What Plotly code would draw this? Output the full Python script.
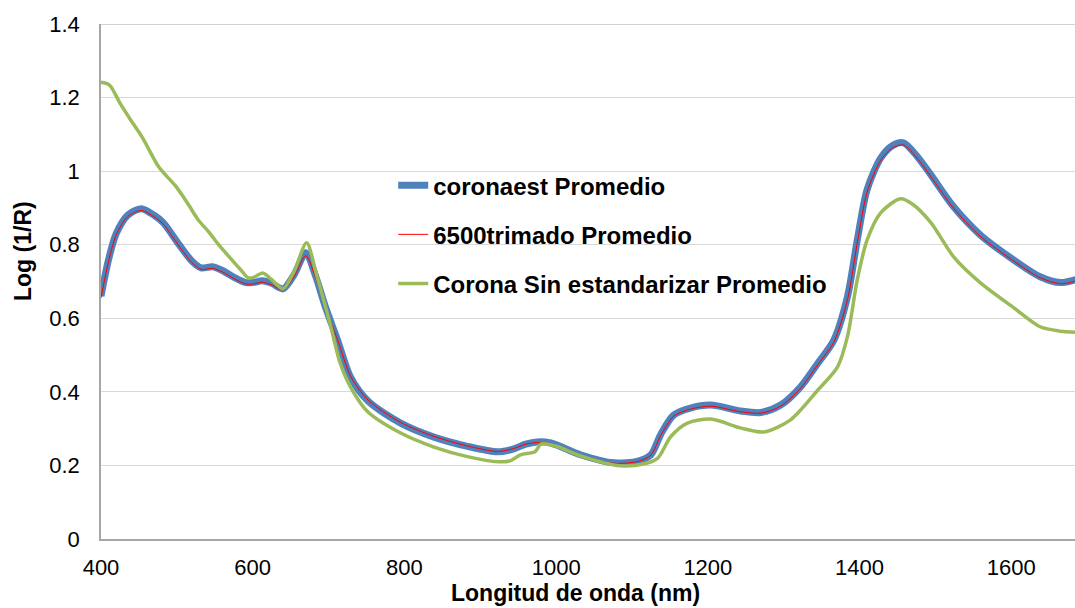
import plotly.graph_objects as go

# Wavelength grid (nm) and average log(1/R) spectra
wl_coronaest = [400, 410, 420, 435, 453, 470, 482, 503, 520, 532, 547, 560, 575, 591, 600, 613,
                625, 640, 655, 670, 682, 696, 712, 729, 752, 795, 839, 883, 923, 944, 960, 975,
                993, 1032, 1076, 1108, 1125, 1138, 1155, 1177, 1204, 1243, 1270, 1296, 1322, 1345,
                1366, 1384, 1397, 1410, 1428, 1444, 1458, 1476, 1494, 1524, 1559, 1603, 1638, 1665, 1685]
coronaest = [0.66, 0.76, 0.83, 0.88, 0.898, 0.88, 0.86, 0.80, 0.755, 0.737, 0.74, 0.73, 0.712, 0.697, 0.697, 0.702,
             0.695, 0.68, 0.72, 0.778, 0.72, 0.63, 0.54, 0.44, 0.375, 0.315, 0.277, 0.252, 0.237, 0.245, 0.258, 0.264,
             0.261, 0.229, 0.207, 0.212, 0.229, 0.285, 0.337, 0.356, 0.364, 0.348, 0.344, 0.364, 0.413, 0.478,
             0.54, 0.658, 0.813, 0.95, 1.036, 1.07, 1.077, 1.04, 0.99, 0.903, 0.827, 0.759, 0.713, 0.697, 0.705]

wl_trimado = [400, 410, 420, 435, 453, 470, 482, 503, 520, 532, 547, 560, 575, 591, 600, 613,
              625, 640, 655, 670, 682, 696, 712, 729, 752, 795, 839, 883, 923, 944, 960, 975,
              993, 1032, 1076, 1108, 1125, 1138, 1155, 1177, 1204, 1243, 1270, 1296, 1322, 1345,
              1366, 1384, 1397, 1410, 1428, 1444, 1458, 1476, 1494, 1524, 1559, 1603, 1638, 1665, 1685]
trimado = [0.655, 0.755, 0.826, 0.876, 0.893, 0.876, 0.856, 0.796, 0.751, 0.733, 0.736, 0.726, 0.708, 0.693, 0.693, 0.698,
           0.691, 0.677, 0.715, 0.77, 0.716, 0.628, 0.541, 0.443, 0.378, 0.317, 0.279, 0.253, 0.238, 0.246, 0.258, 0.262,
           0.259, 0.228, 0.206, 0.211, 0.228, 0.282, 0.334, 0.353, 0.361, 0.346, 0.342, 0.361, 0.409, 0.474,
           0.535, 0.65, 0.805, 0.943, 1.03, 1.064, 1.071, 1.035, 0.985, 0.899, 0.823, 0.756, 0.71, 0.694, 0.701]

wl_sin_est = [400, 408, 413, 425, 437, 455, 476, 499, 515, 528, 542, 555, 569, 585, 594, 602,
              613, 625, 640, 655, 671, 684, 703, 715, 729, 752, 795, 839, 883, 924, 940, 953,
              972, 980, 1000, 1032, 1085, 1115, 1134, 1151, 1173, 1204, 1243, 1274, 1309, 1345,
              1371, 1384, 1397, 1410, 1428, 1454, 1470, 1494, 1524, 1559, 1603, 1638, 1665, 1685]
sin_est = [1.242, 1.238, 1.23, 1.185, 1.146, 1.09, 1.012, 0.958, 0.91, 0.868, 0.835, 0.80, 0.767, 0.73, 0.71, 0.712,
           0.723, 0.705, 0.68, 0.73, 0.805, 0.72, 0.577, 0.48, 0.413, 0.345, 0.288, 0.25, 0.224, 0.21, 0.213, 0.229,
           0.237, 0.258, 0.252, 0.226, 0.199, 0.204, 0.22, 0.278, 0.315, 0.326, 0.302, 0.291, 0.324, 0.405,
           0.468, 0.55, 0.705, 0.813, 0.887, 0.925, 0.91, 0.86, 0.767, 0.697, 0.629, 0.577, 0.565, 0.562]

x_ticks = [400, 600, 800, 1000, 1200, 1400, 1600]
y_ticks = [0, 0.2, 0.4, 0.6, 0.8, 1, 1.2, 1.4]
y_tick_text = ["0", "0.2", "0.4", "0.6", "0.8", "1", "1.2", "1.4"]

FONT = "Liberation Sans, Arial, sans-serif"
TICK_FS = 22
TITLE_FS = 23
LEGEND_FS = 24

fig = go.Figure()
fig.add_trace(go.Scatter(x=wl_coronaest, y=coronaest, mode="lines", name="coronaest Promedio",
                         legendgroup="a",
                         line=dict(color="#4f81bd", width=7, shape="spline", smoothing=0.8)))
fig.add_trace(go.Scatter(x=wl_trimado, y=trimado, mode="lines", name="6500trimado Promedio",
                         legendgroup="b",
                         line=dict(color="#ff0000", width=1, shape="spline", smoothing=0.8)))
fig.add_trace(go.Scatter(x=wl_sin_est, y=sin_est, mode="lines", name="Corona Sin estandarizar Promedio",
                         legendgroup="c",
                         line=dict(color="#9bbb59", width=3.5, shape="spline", smoothing=0.8)))

# frame line along the top of the plot area
fig.add_shape(type="line", xref="paper", yref="y", x0=0, x1=1, y0=1.4, y1=1.4,
              line=dict(color="#a6a6a6", width=1), layer="below")

# axis titles
fig.add_annotation(text="<b>Longitud de onda (nm)</b>", xref="paper", yref="paper",
                   x=(575 - 101) / 974, y=-(593 - 539) / 515, xanchor="center", yanchor="middle",
                   showarrow=False, font=dict(family=FONT, size=TITLE_FS, color="black"))
fig.add_annotation(text="<b>Log (1/R)</b>", xref="paper", yref="paper",
                   x=-(101 - 23) / 974, y=(539 - 251) / 515, xanchor="center", yanchor="middle",
                   textangle=-90, showarrow=False,
                   font=dict(family=FONT, size=TITLE_FS, color="black"))

fig.update_layout(
    width=1075, height=608,
    margin=dict(l=101, r=0, t=24, b=69),
    paper_bgcolor="white", plot_bgcolor="white",
    font=dict(family=FONT, size=TICK_FS, color="black"),
    showlegend=True,
    legend=dict(x=0.3, y=0.73, xanchor="left", yanchor="top",
                bgcolor="rgba(0,0,0,0)", tracegroupgap=15,
                font=dict(family=FONT, size=LEGEND_FS, color="black", weight="bold")),
    xaxis=dict(range=[400, 1684], tickvals=x_ticks, ticktext=[str(v) for v in x_ticks],
               showgrid=False, zeroline=False, showline=True, linecolor="#a6a6a6", linewidth=1.5,
               ticks="", ticklabelstandoff=8,
               tickfont=dict(family=FONT, size=TICK_FS, color="black")),
    yaxis=dict(range=[0, 1.4], tickvals=y_ticks, ticktext=y_tick_text,
               showgrid=True, gridcolor="#d9d9d9", gridwidth=1.2, zeroline=False,
               showline=True, linecolor="#a6a6a6", linewidth=1.5,
               ticks="", ticklabelstandoff=15,
               tickfont=dict(family=FONT, size=TICK_FS, color="black")),
)

fig.write_html("out.html")
